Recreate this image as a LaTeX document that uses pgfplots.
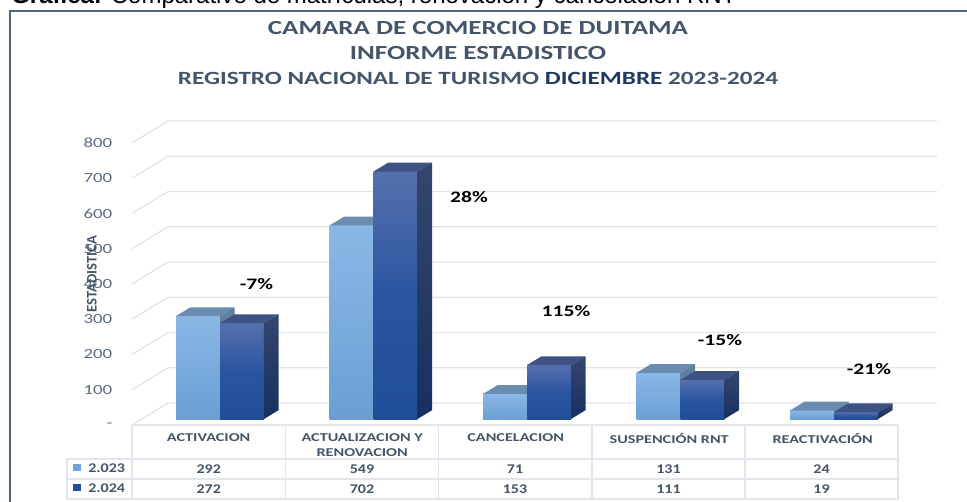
\documentclass[border=0pt]{standalone}
\usepackage{fontspec}
\setmainfont[FakeStretch=1.2]{Carlito}
\newfontfamily\narrowfont{Carlito}
\newfontfamily\widefont[FakeStretch=1.35]{Carlito}
\newfontfamily\capfont{Liberation Sans}
\usepackage{pgfplots}
\pgfplotsset{compat=1.18}

\definecolor{titleblue}{HTML}{44546A}
\definecolor{navy}{HTML}{1F3864}
\definecolor{gridc}{HTML}{E1E5EC}
\definecolor{framec}{HTML}{50627F}
\definecolor{tickc}{HTML}{5F6B80}
\definecolor{lightA}{HTML}{8AB8E6}
\definecolor{lightB}{HTML}{6A9FD4}
\definecolor{darkA}{HTML}{5670AD}
\definecolor{darkM}{HTML}{2A55A0}
\definecolor{darkB}{HTML}{214E98}
\definecolor{lighttop}{HTML}{6A8CAE}
\definecolor{lightside}{HTML}{5E7F9E}
\definecolor{darktop}{HTML}{3F5284}
\definecolor{darksideA}{HTML}{34466F}
\definecolor{darksideB}{HTML}{17305F}
\definecolor{keylight}{HTML}{6FA5DC}
\definecolor{keydark}{HTML}{24509B}

% one bar with its own shading, then its top and side face
% #1 category, #2 value
\newcommand{\faces}[5]{%
  \pgfmathsetmacro\xr{#1+0.2866}%
  \pgfmathsetmacro\xa{#1+0.0945}%
  \pgfmathsetmacro\xb{#1+0.2866+0.0945}%
  \pgfmathsetmacro\yt{#2+25}%
  \addplot[draw=none,fill=#3] coordinates {(#1,#2)(\xa,\yt)(\xb,\yt)(\xr,#2)} -- cycle;
  \addplot[draw=none,top color=#4,bottom color=#5] coordinates {(\xr,0)(\xb,25)(\xb,\yt)(\xr,#2)} -- cycle;
}
\newcommand{\lightbar}[2]{%
  \addplot[ybar,bar width=33pt,bar shift=-16.5pt,draw=none,top color=lightA,bottom color=lightB]
    coordinates {(#1,#2)};
  \pgfmathsetmacro\xl{#1-0.2866}%
  \faces{\xl}{#2}{lighttop}{lightside}{lightside}
}
\newcommand{\darkbar}[2]{%
  \addplot[ybar,bar width=33pt,bar shift=16.5pt,draw=none,top color=darkA,bottom color=darkB,middle color=darkM]
    coordinates {(#1,#2)};
  \faces{#1}{#2}{darktop}{darksideA}{darksideB}
}

\begin{document}
\begin{tikzpicture}[x=0.75pt,y=0.75pt]
\path[use as bounding box,clip] (0,0) rectangle (967,501);

% layout in pixel coordinates: frame, grid, table, titles
\begin{axis}[
  at={(0,0)},anchor=south west,scale only axis,
  width=725.25pt,height=375.75pt,
  xmin=0,xmax=967,ymin=0,ymax=501,y dir=reverse,
  hide axis,clip=false,
]
\node[anchor=base west,inner sep=0pt,font=\capfont\fontsize{18}{20}\selectfont,black] at (axis cs:11,3.5)
  {\textbf{Gráfica:} Comparativo de matrículas, renovación y cancelación RNT};
\draw[framec,line width=1pt] (axis cs:10,505) -- (axis cs:10,11) -- (axis cs:970,11);

\node[font=\widefont\fontsize{15}{17}\bfseries\selectfont,titleblue] at (axis cs:478,28) {CAMARA DE COMERCIO DE DUITAMA};
\node[font=\widefont\fontsize{15}{17}\bfseries\selectfont,titleblue] at (axis cs:478,53) {INFORME ESTADISTICO};
\node[font=\widefont\fontsize{14}{16}\bfseries\selectfont,titleblue] at (axis cs:478,78)
  {REGISTRO NACIONAL DE TURISMO \textcolor{navy}{DICIEMBRE} 2023-2024};

% walls and floor
\pgfplotsinvokeforeach{0,1,...,8}{
  \draw[gridc,line width=1pt] (axis cs:132,425-35.25*#1) -- (axis cs:168,403-35.25*#1) -- (axis cs:937,403-35.25*#1);
}

% table rules
\draw[gridc,line width=1pt] (axis cs:132,425) -- (axis cs:898,425);
\draw[gridc,line width=1pt] (axis cs:67,459) -- (axis cs:898,459);
\draw[gridc,line width=1pt] (axis cs:67,479) -- (axis cs:898,479);
\draw[gridc,line width=1pt] (axis cs:67,499) -- (axis cs:898,499);
\draw[gridc,line width=1pt] (axis cs:67,459) -- (axis cs:67,499);
\pgfplotsinvokeforeach{132,285.5,438.5,592,745,898}{
  \draw[gridc,line width=1pt] (axis cs:#1,425) -- (axis cs:#1,499);
}
\fill[keylight] (axis cs:73,464) rectangle (axis cs:81,471);
\fill[keydark] (axis cs:73,484) rectangle (axis cs:81,491);

\begin{scope}[every node/.style={font=\fontsize{10}{12}\bfseries\selectfont,titleblue}]
\node[anchor=west,inner sep=0pt] at (axis cs:88,468) {2.023};
\node[anchor=west,inner sep=0pt] at (axis cs:88,488) {2.024};
\node at (axis cs:208.7,469) {292};
\node at (axis cs:362,469) {549};
\node at (axis cs:515,469) {71};
\node at (axis cs:668.5,469) {131};
\node at (axis cs:821.5,469) {24};
\node at (axis cs:208.7,489) {272};
\node at (axis cs:362,489) {702};
\node at (axis cs:515,489) {153};
\node at (axis cs:668.5,489) {111};
\node at (axis cs:821.5,489) {19};
\end{scope}

\begin{scope}[every node/.style={font=\widefont\fontsize{12}{14}\bfseries\selectfont,black}]
\node at (axis cs:256.5,284) {-7\%};
\node at (axis cs:469,197) {28\%};
\node at (axis cs:566,311) {115\%};
\node at (axis cs:720,340) {-15\%};
\node at (axis cs:869,369) {-21\%};
\end{scope}
\end{axis}

% data axis, same rectangle: 1 category = 153.5 px, 100 units = 35.25 px
\begin{axis}[
  at={(0,0)},anchor=south west,scale only axis,
  width=725.25pt,height=375.75pt,
  xmin=-1.4332,xmax=4.8664,ymin=-232.6,ymax=1188.6,
  axis line style={draw=none},tick style={draw=none},
  /pgf/number format/assume math mode=true,
  ytick={0,100,...,800},
  yticklabels={-\hspace{9pt},100,200,300,400,500,600,700,800},
  yticklabel style={anchor=east,xshift=87.75pt,yshift=-4.5pt,
    font=\widefont\fontsize{10.5}{12}\selectfont,text=tickc},
  xtick={0,1,2,3,4},
  xticklabels={ACTIVACION,{ACTUALIZACION Y\\RENOVACION},CANCELACION,SUSPENCIÓN RNT,REACTIVACIÓN},
  xticklabel style={anchor=north,align=center,xshift=-8.5pt,yshift=54pt,
    font=\widefont\fontsize{9}{11.2}\bfseries\selectfont,text=titleblue},
  ylabel={\narrowfont\bfseries ESTADISTICA},
  ylabel style={at={(axis description cs:0.095,0.453)},anchor=center,
    font=\fontsize{11}{12}\selectfont,text=titleblue},
]
\lightbar{0}{292}
\lightbar{1}{549}
\lightbar{2}{71}
\lightbar{3}{131}
\lightbar{4}{24}
\darkbar{0}{272}
\darkbar{1}{702}
\darkbar{2}{153}
\darkbar{3}{111}
\darkbar{4}{19}
\end{axis}
\end{tikzpicture}
\end{document}
